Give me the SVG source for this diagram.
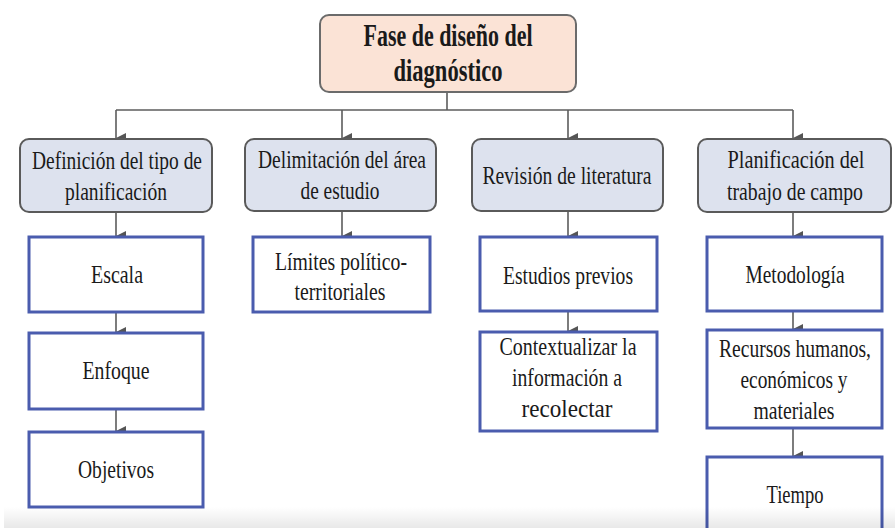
<svg xmlns="http://www.w3.org/2000/svg" width="895" height="528" viewBox="0 0 895 528">
<style>
  text { font-family: "Liberation Serif", "Times New Roman", serif; fill: #1a1a1a; text-anchor: middle; }
  .t0 { font-size: 31px; font-weight: bold; }
  .t1 { font-size: 26px; }
  .t2 { font-size: 26px; }
  .root { fill: #fbe3d6; stroke: #6b6b6b; stroke-width: 2; }
  .l1 { fill: #dde2ee; stroke: #5a5a5a; stroke-width: 2; }
  .l2 { fill: #ffffff; stroke: #4a5cae; stroke-width: 3; }
  .c { fill: none; stroke: #5c5c5c; stroke-width: 1.6; }
</style>
<defs>
  <marker id="ah" markerUnits="userSpaceOnUse" markerWidth="10" markerHeight="10" viewBox="0 0 10 10" refX="5" refY="10" orient="auto-start-reverse">
    <path d="M0,0 L10,0 L5,10 Z" fill="#555"/>
  </marker>
  <linearGradient id="band" x1="0" y1="0" x2="0" y2="1">
    <stop offset="0" stop-color="#000" stop-opacity="0"/>
    <stop offset="1" stop-color="#000" stop-opacity="0.09"/>
  </linearGradient>
</defs>
<rect width="895" height="528" fill="#ffffff"/>

<g id="connectors">
  <path class="c" d="M447,92 V110"/>
  <path class="c" d="M116,110 H793"/>
  <path class="c" d="M116,110 V138" marker-end="url(#ah)"/>
  <path class="c" d="M342,110 V138" marker-end="url(#ah)"/>
  <path class="c" d="M568,110 V138" marker-end="url(#ah)"/>
  <path class="c" d="M793,110 V138" marker-end="url(#ah)"/>
  <path class="c" d="M116,212 V236" marker-end="url(#ah)"/>
  <path class="c" d="M116,312 V332" marker-end="url(#ah)"/>
  <path class="c" d="M116,409 V431" marker-end="url(#ah)"/>
  <path class="c" d="M342,211 V236" marker-end="url(#ah)"/>
  <path class="c" d="M568,211 V236" marker-end="url(#ah)"/>
  <path class="c" d="M568,311 V331" marker-end="url(#ah)"/>
  <path class="c" d="M793,212 V236" marker-end="url(#ah)"/>
  <path class="c" d="M793,311 V329" marker-end="url(#ah)"/>
  <path class="c" d="M793,428 V456" marker-end="url(#ah)"/>
</g>

<g id="root">
  <rect class="root" x="320" y="15" width="256" height="77" rx="9"/>
  <text class="t0" x="448" y="46" textLength="169" lengthAdjust="spacingAndGlyphs">Fase de diseño del</text>
  <text class="t0" x="448" y="81" textLength="109" lengthAdjust="spacingAndGlyphs">diagnóstico</text>
</g>

<g id="n-definicion">
  <rect class="l1" x="20" y="139" width="192" height="73" rx="9"/>
  <text class="t1" x="117" y="169" textLength="170" lengthAdjust="spacingAndGlyphs">Definición del tipo de</text>
  <text class="t1" x="116" y="200" textLength="102" lengthAdjust="spacingAndGlyphs">planificación</text>
</g>
<g id="n-delimitacion">
  <rect class="l1" x="245" y="139" width="191" height="72" rx="9"/>
  <text class="t1" x="342" y="168" textLength="168" lengthAdjust="spacingAndGlyphs">Delimitación del área</text>
  <text class="t1" x="340" y="199" textLength="79" lengthAdjust="spacingAndGlyphs">de estudio</text>
</g>
<g id="n-revision">
  <rect class="l1" x="472" y="139" width="191" height="72" rx="9"/>
  <text class="t1" x="567" y="184" textLength="169" lengthAdjust="spacingAndGlyphs">Revisión de literatura</text>
</g>
<g id="n-planificacion">
  <rect class="l1" x="698" y="139" width="193" height="73" rx="9"/>
  <text class="t1" x="796" y="168" textLength="137" lengthAdjust="spacingAndGlyphs">Planificación del</text>
  <text class="t1" x="795" y="200" textLength="136" lengthAdjust="spacingAndGlyphs">trabajo de campo</text>
</g>

<g id="n-escala">
  <rect class="l2" x="29" y="237" width="174" height="75"/>
  <text class="t2" x="117" y="283" textLength="52" lengthAdjust="spacingAndGlyphs">Escala</text>
</g>
<g id="n-enfoque">
  <rect class="l2" x="29" y="333" width="174" height="76"/>
  <text class="t2" x="116" y="379" textLength="67" lengthAdjust="spacingAndGlyphs">Enfoque</text>
</g>
<g id="n-objetivos">
  <rect class="l2" x="29" y="432" width="174" height="75"/>
  <text class="t2" x="116" y="478" textLength="76" lengthAdjust="spacingAndGlyphs">Objetivos</text>
</g>

<g id="n-limites">
  <rect class="l2" x="253" y="237" width="177" height="75"/>
  <text class="t2" x="341" y="270" textLength="132" lengthAdjust="spacingAndGlyphs">Límites político-</text>
  <text class="t2" x="340" y="300" textLength="91" lengthAdjust="spacingAndGlyphs">territoriales</text>
</g>

<g id="n-estudios">
  <rect class="l2" x="480" y="237" width="177" height="74"/>
  <text class="t2" x="568" y="284" textLength="130" lengthAdjust="spacingAndGlyphs">Estudios previos</text>
</g>
<g id="n-contextualizar">
  <rect class="l2" x="480" y="332" width="177" height="99"/>
  <text class="t2" x="568" y="355" textLength="137" lengthAdjust="spacingAndGlyphs">Contextualizar la</text>
  <text class="t2" x="567" y="386" textLength="110" lengthAdjust="spacingAndGlyphs">información a</text>
  <text class="t2" x="567" y="417" textLength="91" lengthAdjust="spacingAndGlyphs">recolectar</text>
</g>

<g id="n-metodologia">
  <rect class="l2" x="707" y="237" width="175" height="74"/>
  <text class="t2" x="795" y="283" textLength="99" lengthAdjust="spacingAndGlyphs">Metodología</text>
</g>
<g id="n-recursos">
  <rect class="l2" x="707" y="330" width="175" height="98"/>
  <text class="t2" x="795" y="357" textLength="152" lengthAdjust="spacingAndGlyphs">Recursos humanos,</text>
  <text class="t2" x="794" y="388" textLength="107" lengthAdjust="spacingAndGlyphs">económicos y</text>
  <text class="t2" x="794" y="419" textLength="81" lengthAdjust="spacingAndGlyphs">materiales</text>
</g>
<g id="n-tiempo">
  <rect class="l2" x="707" y="457" width="175" height="80"/>
  <text class="t2" x="795" y="503" textLength="57" lengthAdjust="spacingAndGlyphs">Tiempo</text>
</g>

<rect x="4" y="507" width="891" height="21" fill="url(#band)"/>
</svg>
